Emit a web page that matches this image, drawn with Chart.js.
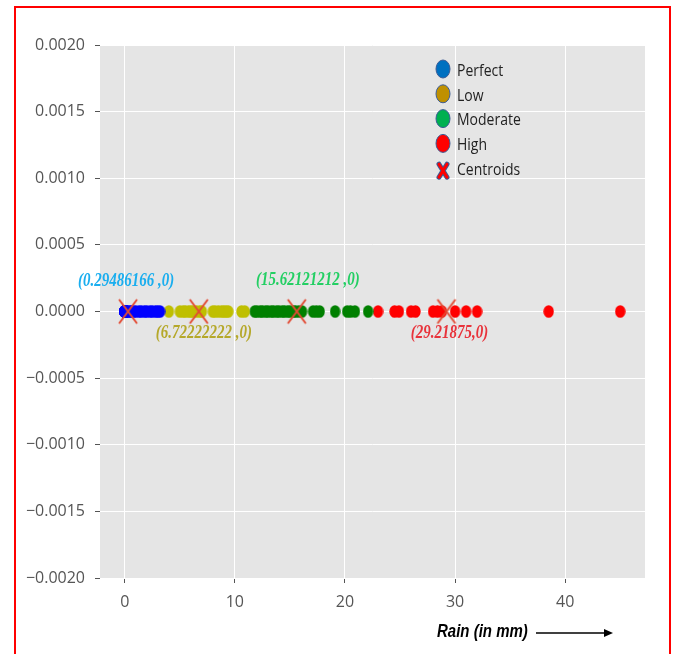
<!DOCTYPE html>
<html>
<head>
<meta charset="utf-8">
<script src="https://cdn.jsdelivr.net/npm/chart.js@4.4.0/dist/chart.umd.min.js"></script>
<style>
  body { margin: 0; background: #fff; }
  #wrap { position: relative; width: 675px; height: 654px; overflow: hidden; }
  #frame { position: absolute; left: 14px; top: 6px; width: 653px; height: 700px; border: 2px solid red; border-bottom: none; }
</style>
</head>
<body>
<div id="wrap">
  <canvas id="myChart" width="675" height="654"></canvas>
  <div id="frame"></div>
</div>
<script>
// rain values (mm) per cluster
var perfectRain = [0,0,0,0,0,0,0,0,0,0,0,0,0,0,0,0,0,0,0,0,0,0,0,0,0,0.1,0.2,0.3,0.5,0.6,0.8,1.0,1.3,1.5,1.8,2.0,2.3,2.5,2.8,3.0,3.2];
var lowRain = [4.0,5.0,5.3,5.5,5.8,6.0,6.2,6.5,6.8,7.0,8.0,8.2,8.5,8.8,9.0,9.2,9.4,10.6,10.9];
var moderateRain = [11.8,12.0,12.3,12.5,12.8,13.0,13.3,13.5,13.8,14.0,14.3,14.5,14.8,15.0,15.3,15.5,15.8,16.1,17.1,17.4,17.7,19.1,20.2,20.5,20.9,22.1];
var highRain = [23.0,24.5,24.9,26.0,26.4,28.0,28.4,28.8,30.0,31.0,32.0,38.5,45.0];
var centroidRain = [0.29486166, 6.72222222, 15.62121212, 29.21875];
var centroidLabels = ['(0.29486166 ,0)', '(6.72222222 ,0)', '(15.62121212 ,0)', '(29.21875,0)'];

// tick labels
var xTicks = [0, 10, 20, 30, 40];
var yTicks = [-0.002, -0.0015, -0.001, -0.0005, 0, 0.0005, 0.001, 0.0015, 0.002];

// legend
var legendNames = ['Perfect', 'Low', 'Moderate', 'High', 'Centroids'];
var legendColors = ['#0070C0', '#BF9000', '#00B050', '#FF0000'];

function toPoints(arr) {
  return arr.map(function (v) { return { x: v, y: 0 }; });
}

// slightly tall dots (the picture is stretched a bit vertically)
function dot(color) {
  var c = document.createElement('canvas');
  c.width = 11; c.height = 13;
  var g = c.getContext('2d');
  g.fillStyle = color;
  g.beginPath();
  g.ellipse(5.5, 6.5, 5.2, 6.3, 0, 0, Math.PI * 2);
  g.fill();
  return c;
}

function cross(color) {
  var c = document.createElement('canvas');
  c.width = 22; c.height = 28;
  var g = c.getContext('2d');
  g.strokeStyle = color;
  g.lineWidth = 2;
  g.beginPath();
  g.moveTo(2, 2); g.lineTo(20, 26);
  g.moveTo(20, 2); g.lineTo(2, 26);
  g.stroke();
  return c;
}

// gray panel behind the plot
var panelBg = {
  id: 'panelBg',
  beforeDraw: function (chart) {
    var a = chart.chartArea, ctx = chart.ctx;
    ctx.save();
    ctx.fillStyle = '#E5E5E5';
    ctx.fillRect(a.left, a.top, a.right - a.left, a.bottom - a.top);
    ctx.restore();
  }
};

function tallText(ctx, txt, x, y, sy) {
  ctx.save();
  ctx.translate(x, y);
  ctx.scale(1, sy);
  ctx.fillText(txt, 0, 0);
  ctx.restore();
}

// centroid labels, legend, axis title + arrow
var extras = {
  id: 'extras',
  afterDraw: function (chart) {
    var ctx = chart.ctx, a = chart.chartArea;
    var xs = chart.scales.x, ys = chart.scales.y;
    var y0 = ys.getPixelForValue(0);

    var annotColors = ['#1AAEEF', '#B5A82A', '#23CF63', '#E8333B'];
    var annotDx = [-2, 5, 11, 3];
    var annotDy = [-30, 22, -31, 22];
    ctx.save();
    ctx.font = 'italic bold 15px "Liberation Serif", serif';
    ctx.textAlign = 'center';
    ctx.textBaseline = 'middle';
    centroidRain.forEach(function (v, i) {
      ctx.fillStyle = annotColors[i];
      tallText(ctx, centroidLabels[i], xs.getPixelForValue(v) + annotDx[i], y0 + annotDy[i], 1.25);
    });
    ctx.restore();

    // legend
    var lx = a.left + 343, ly = a.top + 26, step = 24.8;
    ctx.save();
    ctx.font = '14px "Open Sans", sans-serif';
    ctx.textBaseline = 'middle';
    ctx.textAlign = 'left';
    legendNames.forEach(function (name, i) {
      var cy = ly + i * step;
      if (i < 4) {
        ctx.beginPath();
        ctx.ellipse(lx, cy - 2, 7, 9, 0, 0, Math.PI * 2);
        ctx.fillStyle = legendColors[i];
        ctx.fill();
        ctx.lineWidth = 1;
        ctx.strokeStyle = '#3B5C96';
        ctx.stroke();
      } else {
        ctx.lineCap = 'round';
        ctx.beginPath();
        ctx.moveTo(lx - 4, cy - 6); ctx.lineTo(lx + 4, cy + 7);
        ctx.moveTo(lx + 4, cy - 6); ctx.lineTo(lx - 4, cy + 7);
        ctx.strokeStyle = '#3B5C96';
        ctx.lineWidth = 5;
        ctx.stroke();
        ctx.strokeStyle = '#FF0000';
        ctx.lineWidth = 3;
        ctx.stroke();
      }
      ctx.fillStyle = '#222';
      tallText(ctx, name, lx + 14, cy, 1.2);
    });
    ctx.restore();

    // x axis title with arrow
    ctx.save();
    ctx.fillStyle = '#000';
    ctx.font = 'italic bold 15px "Liberation Sans", sans-serif';
    ctx.textBaseline = 'middle';
    ctx.textAlign = 'left';
    tallText(ctx, 'Rain (in mm)', 437, 632, 1.25);
    ctx.strokeStyle = '#000';
    ctx.lineWidth = 1.3;
    ctx.beginPath();
    ctx.moveTo(536, 633);
    ctx.lineTo(606, 633);
    ctx.stroke();
    ctx.beginPath();
    ctx.moveTo(613, 633);
    ctx.lineTo(604, 629);
    ctx.lineTo(604, 637);
    ctx.closePath();
    ctx.fill();
    ctx.restore();
  }
};

var ctx = document.getElementById('myChart').getContext('2d');
var chart = new Chart(ctx, {
  type: 'scatter',
  data: {
    datasets: [
      { label: 'Centroids', data: toPoints(centroidRain), pointStyle: cross('#E24A33'), order: 0 },
      { label: 'Perfect', data: toPoints(perfectRain), pointStyle: dot('#0000FF'), order: 1 },
      { label: 'Low', data: toPoints(lowRain), pointStyle: dot('#BFBF00'), order: 1 },
      { label: 'Moderate', data: toPoints(moderateRain), pointStyle: dot('#008000'), order: 1 },
      { label: 'High', data: toPoints(highRain), pointStyle: dot('#FF0000'), order: 1 }
    ]
  },
  options: {
    responsive: false,
    animation: false,
    devicePixelRatio: 1,
    layout: { padding: { top: 45, right: 30, left: 0, bottom: 0 } },
    plugins: {
      legend: { display: false },
      tooltip: { enabled: false }
    },
    scales: {
      x: {
        type: 'linear',
        min: -2.25,
        max: 47.25,
        afterBuildTicks: function (s) { s.ticks = xTicks.map(function (v) { return { value: v }; }); },
        afterFit: function (s) { s.height = 76; },
        border: { display: false },
        grid: { color: '#FFFFFF', lineWidth: 1, tickColor: '#555', tickLength: 5 },
        ticks: { color: '#555', padding: 10, font: { family: '"Open Sans", sans-serif', size: 16 } }
      },
      y: {
        type: 'linear',
        min: -0.002,
        max: 0.002,
        afterBuildTicks: function (s) { s.ticks = yTicks.map(function (v) { return { value: v }; }); },
        afterFit: function (s) { s.width = 100; },
        border: { display: false },
        grid: { color: '#FFFFFF', lineWidth: 1, tickColor: '#555', tickLength: 5 },
        ticks: {
          color: '#555',
          padding: 10,
          font: { family: '"Open Sans", sans-serif', size: 16 },
          callback: function (v) {
            var s = Math.abs(v).toFixed(4);
            return v < -1e-9 ? '\u2212' + s : s;
          }
        }
      }
    }
  },
  plugins: [panelBg, extras]
});
</script>
</body>
</html>
